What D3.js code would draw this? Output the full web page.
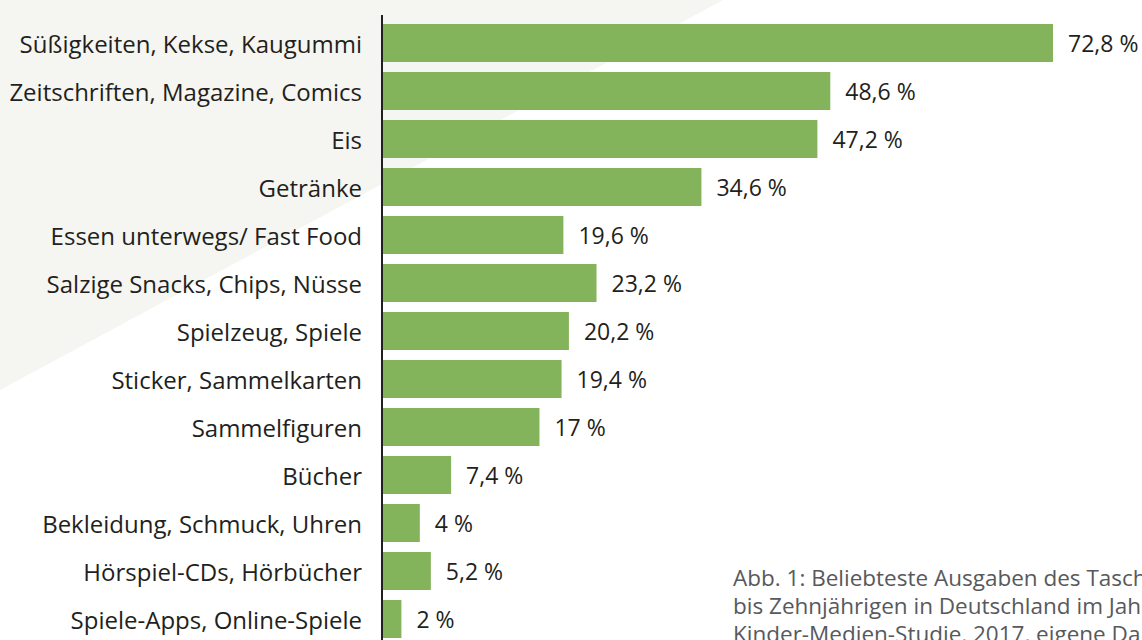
<!DOCTYPE html>
<html>
<head>
<meta charset="utf-8">
<script src="https://cdn.jsdelivr.net/npm/d3@7"></script>
<style>
  html, body { margin: 0; padding: 0; background: #fff; overflow: hidden; }
  text { font-family: "Open Sans", "Noto Sans", sans-serif; }
</style>
</head>
<body>
<div id="chart"></div>
<script>
// categories and values (percent)
var categories = [
  "Süßigkeiten, Kekse, Kaugummi",
  "Zeitschriften, Magazine, Comics",
  "Eis",
  "Getränke",
  "Essen unterwegs/ Fast Food",
  "Salzige Snacks, Chips, Nüsse",
  "Spielzeug, Spiele",
  "Sticker, Sammelkarten",
  "Sammelfiguren",
  "Bücher",
  "Bekleidung, Schmuck, Uhren",
  "Hörspiel-CDs, Hörbücher",
  "Spiele-Apps, Online-Spiele"
];
var values = [72.8, 48.6, 47.2, 34.6, 19.6, 23.2, 20.2, 19.4, 17, 7.4, 4, 5.2, 2];
var captionLines = [
  "Abb. 1: Beliebteste Ausgaben des Taschengeldes der Sechs-",
  "bis Zehnjährigen in Deutschland im Jahr 2017 (Quelle:",
  "Kinder-Medien-Studie, 2017, eigene Darstellung)"
];

var width = 1142, height = 640;
var data = categories.map((c, i) => ({ label: c, value: values[i] }));

var svg = d3.select("#chart").append("svg")
  .attr("width", width)
  .attr("height", height);

// light diagonal background shape
svg.append("path")
  .attr("d", "M0 0 L723 0 L0 390 Z")
  .attr("fill", "#f5f6f2");

var x = d3.scaleLinear().domain([0, 72.8]).range([383, 1053]);
var y = d3.scaleBand()
  .domain(categories)
  .range([19, 643])
  .paddingInner(10 / 48)
  .paddingOuter(5 / 48);

function fmt(v) {
  return String(v).replace(".", ",") + " %";
}

svg.selectAll(".bar")
  .data(data)
  .enter()
  .append("rect")
  .attr("class", "bar")
  .attr("x", x(0))
  .attr("y", d => y(d.label))
  .attr("width", d => x(d.value) - x(0))
  .attr("height", y.bandwidth())
  .attr("fill", "#83b35b");

// category labels
svg.selectAll(".cat")
  .data(data)
  .enter()
  .append("text")
  .attr("class", "cat")
  .attr("x", 362)
  .attr("y", d => y(d.label) + y.bandwidth() / 2)
  .attr("dy", "0.4em")
  .attr("text-anchor", "end")
  .attr("font-size", 24)
  .attr("fill", "#231f20")
  .text(d => d.label);

// value labels
svg.selectAll(".val")
  .data(data)
  .enter()
  .append("text")
  .attr("class", "val")
  .attr("x", d => x(d.value) + 15)
  .attr("y", d => y(d.label) + y.bandwidth() / 2)
  .attr("dy", "0.4em")
  .attr("font-size", 23)
  .attr("fill", "#231f20")
  .text(d => fmt(d.value));

// axis line
svg.append("line")
  .attr("x1", 382).attr("x2", 382)
  .attr("y1", 15).attr("y2", height)
  .attr("stroke", "#231f20")
  .attr("stroke-width", 2);

// caption (runs off the right edge like the source)
svg.append("g")
  .selectAll("text")
  .data(captionLines)
  .enter()
  .append("text")
  .attr("x", 733)
  .attr("y", (d, i) => 586 + i * 28)
  .attr("font-size", 22.5)
  .attr("fill", "#58595b")
  .text(d => d);
</script>
</body>
</html>
